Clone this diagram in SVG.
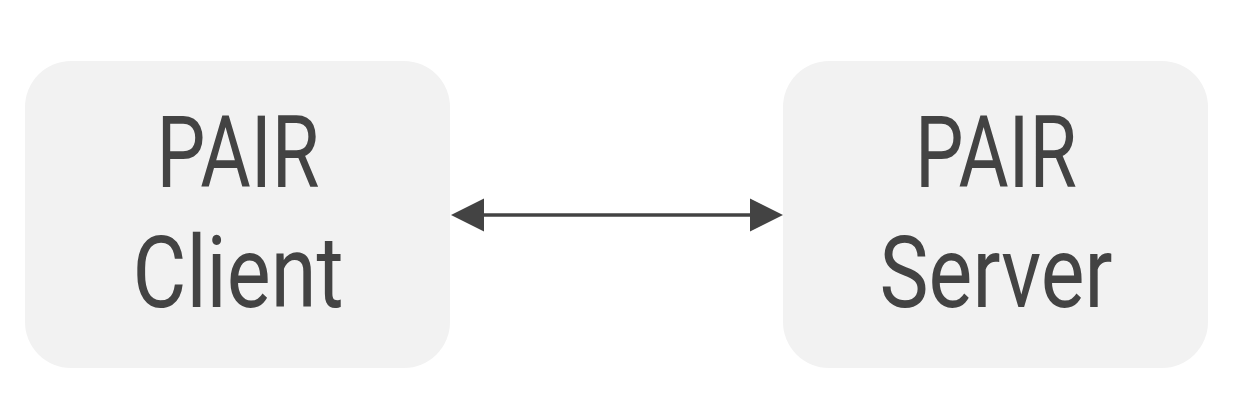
<svg xmlns="http://www.w3.org/2000/svg" width="1248" height="402" viewBox="0 0 1248 402">
<style>
.box{fill:#f2f2f2;}
.lbl{font-family:Roboto,"Liberation Sans",sans-serif;font-weight:400;font-size:100px;fill:#434343;text-anchor:middle;}
.conn{stroke:#434343;stroke-width:3.5;fill:none;}
.head{fill:#434343;}
</style>
<rect width="1248" height="402" fill="#ffffff"/>
<g id="client">
<rect class="box" x="25" y="61" width="425" height="307" rx="46" ry="46"/>
<text class="lbl" x="238" y="187" textLength="163" lengthAdjust="spacingAndGlyphs">PAIR</text>
<text class="lbl" x="238" y="307" textLength="211" lengthAdjust="spacingAndGlyphs">Client</text>
</g>
<g id="server">
<rect class="box" x="783" y="61" width="425" height="307" rx="46" ry="46"/>
<text class="lbl" x="996" y="187" textLength="162" lengthAdjust="spacingAndGlyphs">PAIR</text>
<text class="lbl" x="996" y="307" textLength="233" lengthAdjust="spacingAndGlyphs">Server</text>
</g>
<g id="connectors">
<line class="conn" x1="480" y1="215" x2="754" y2="215"/>
<polygon class="head" points="451,215 484,198.5 484,231.5"/>
<polygon class="head" points="783,215 750,198.5 750,231.5"/>
</g>
</svg>
